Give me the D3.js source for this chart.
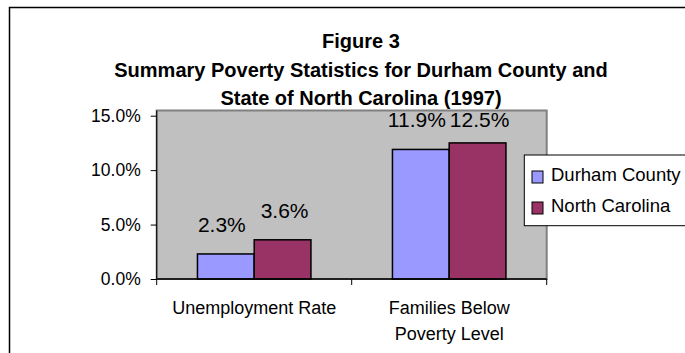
<!DOCTYPE html>
<html>
<head>
<meta charset="utf-8">
<script src="https://cdnjs.cloudflare.com/ajax/libs/d3/7.8.5/d3.min.js"></script>
<style>
    body { margin: 0; background: #fff; }
    svg { display: block; font-family: "Liberation Sans", Arial, sans-serif; }
</style>
</head>
<body>
<script>
(function() {
    // chart data
    var categories = ["Unemployment Rate", "Families Below\nPoverty Level"];
    var seriesNames = ["Durham County", "North Carolina"];
    var durham = [2.3, 11.9];
    var northCarolina = [3.6, 12.5];
    var yTicks = [0, 5, 10, 15];
    var titleLines = ["Figure 3",
        "Summary Poverty Statistics for Durham County and",
        "State of North Carolina (1997)"];

    var colors = ["#9999ff", "#993366"];
    var values = [durham, northCarolina];

    // layout
    var width = 685, height = 353;
    var plot = { left: 156.7, right: 546.7, top: 110.5, bottom: 279 };

    var svg = d3.select("body").append("svg")
        .attr("width", width)
        .attr("height", height);

    // outer frame (cropped on right and bottom)
    svg.append("path")
        .attr("d", "M9.5," + (height + 5) + " V7.5 H" + (width + 5))
        .attr("fill", "none")
        .attr("stroke", "#000")
        .attr("stroke-width", 1.5);

    // title
    var titleX = 361;
    svg.selectAll(".title")
        .data(titleLines)
        .enter().append("text")
        .attr("class", "title")
        .attr("x", titleX)
        .attr("y", function(d, i) { return 48 + i * 28.5; })
        .attr("text-anchor", "middle")
        .attr("font-weight", "bold")
        .attr("font-size", "20px")
        .text(function(d) { return d; });

    // scales
    var x0 = d3.scaleBand()
        .domain(d3.range(categories.length))
        .range([plot.left, plot.right])
        .paddingInner(0.418)
        .paddingOuter(0.209);

    var x1 = d3.scaleBand()
        .domain(d3.range(seriesNames.length))
        .range([0, x0.bandwidth()]);

    var y = d3.scaleLinear()
        .domain([0, 15])
        .range([plot.bottom, 115.7]);

    // plot area
    svg.append("rect")
        .attr("x", plot.left)
        .attr("y", plot.top)
        .attr("width", plot.right - plot.left)
        .attr("height", plot.bottom - plot.top)
        .attr("fill", "#c0c0c0")
        .attr("stroke", "#808080")
        .attr("stroke-width", 2);

    // y axis
    var yAxis = d3.axisLeft(y)
        .tickValues(yTicks)
        .tickSize(6)
        .tickPadding(10)
        .tickFormat(function(d) { return d3.format(".1f")(d) + "%"; });

    var gy = svg.append("g")
        .attr("transform", "translate(" + plot.left + ",0)")
        .call(yAxis);
    gy.select(".domain").attr("d", "M0," + plot.top + "V" + plot.bottom).attr("stroke", "#000");
    gy.selectAll("text").attr("font-size", "17.5px").attr("fill", "#000")
        .attr("font-family", "Liberation Sans, Arial, sans-serif");
    gy.selectAll("line").attr("stroke", "#000");

    // bars
    var groups = svg.selectAll(".cat")
        .data(categories)
        .enter().append("g")
        .attr("class", "cat")
        .attr("transform", function(d, i) { return "translate(" + x0(i) + ",0)"; });

    groups.selectAll("rect")
        .data(function(d, i) { return values.map(function(v, s) { return { s: s, v: v[i] }; }); })
        .enter().append("rect")
        .attr("x", function(d) { return x1(d.s); })
        .attr("y", function(d) { return y(d.v); })
        .attr("width", x1.bandwidth())
        .attr("height", function(d) { return y(0) - y(d.v); })
        .attr("fill", function(d) { return colors[d.s]; })
        .attr("stroke", "#000")
        .attr("stroke-width", 1.5);

    // value labels (kept below the title area, nudged apart like the original)
    groups.selectAll(".lbl")
        .data(function(d, i) { return values.map(function(v, s) { return { s: s, v: v[i] }; }); })
        .enter().append("text")
        .attr("class", "lbl")
        .attr("x", function(d) { return x1(d.s) + x1.bandwidth() / 2 + (d.s ? 2 : -4); })
        .attr("y", function(d) { return Math.max(y(d.v) - 22, 126.5); })
        .attr("text-anchor", "middle")
        .attr("font-size", "21px")
        .text(function(d) { return d3.format(".1f")(d.v) + "%"; });

    // x axis
    var xAxisScale = d3.scaleLinear().domain([0, categories.length]).range([plot.left, plot.right]);
    var gx = svg.append("g")
        .attr("transform", "translate(0," + plot.bottom + ")");
    gx.append("line")
        .attr("x1", plot.left).attr("x2", plot.right)
        .attr("stroke", "#000").attr("stroke-width", 1.5);
    gx.selectAll(".tick")
        .data(d3.range(categories.length + 1))
        .enter().append("line")
        .attr("class", "tick")
        .attr("x1", function(d) { return xAxisScale(d); })
        .attr("x2", function(d) { return xAxisScale(d); })
        .attr("y1", 0).attr("y2", 6)
        .attr("stroke", "#000");

    gx.selectAll(".catlbl")
        .data(categories)
        .enter().append("text")
        .attr("class", "catlbl")
        .attr("text-anchor", "middle")
        .attr("font-size", "18px")
        .attr("transform", function(d, i) { return "translate(" + (x0(i) + x0.bandwidth() / 2) + ",35)"; })
        .selectAll("tspan")
        .data(function(d) { return d.split("\n"); })
        .enter().append("tspan")
        .attr("x", 0)
        .attr("dy", function(d, i) { return i ? 26 : 0; })
        .text(function(d) { return d; });

    // legend
    var legend = svg.append("g");
    legend.append("rect")
        .attr("x", 524.3).attr("y", 155)
        .attr("width", 165).attr("height", 70.7)
        .attr("fill", "#fff")
        .attr("stroke", "#000")
        .attr("stroke-width", 1);

    var items = legend.selectAll(".item")
        .data(seriesNames)
        .enter().append("g")
        .attr("class", "item")
        .attr("transform", function(d, i) { return "translate(0," + (i * 31) + ")"; });
    items.append("rect")
        .attr("x", 532).attr("y", 171)
        .attr("width", 11).attr("height", 12)
        .attr("fill", function(d, i) { return colors[i]; })
        .attr("stroke", "#000")
        .attr("stroke-width", 1);
    items.append("text")
        .attr("x", 551).attr("y", 181)
        .attr("font-size", "18.5px")
        .text(function(d) { return d; });
})();
</script>
</body>
</html>
